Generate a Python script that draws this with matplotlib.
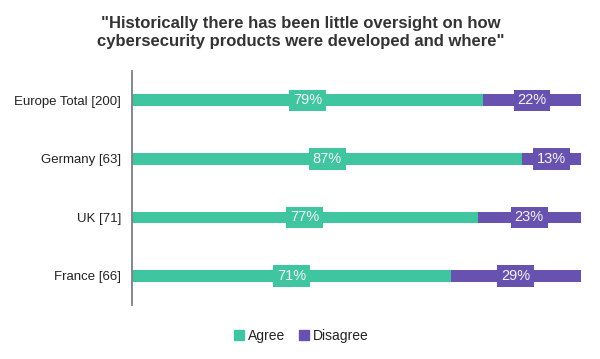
import matplotlib.pyplot as plt
from matplotlib.patches import Patch

plt.rcParams['font.family'] = ['Liberation Sans', 'DejaVu Sans']

# Data
groups = ["Europe Total [200]", "Germany [63]", "UK [71]", "France [66]"]
agree = [79, 87, 77, 71]
disagree = [22, 13, 23, 29]

GREEN = "#40C5A1"
PURPLE = "#6852B0"

fig = plt.figure(figsize=(6, 3.59), dpi=100)
ax = fig.add_axes([0.22, 0.150, 0.748, 0.652])

ypos = list(range(len(groups)))
tot = [a + d for a, d in zip(agree, disagree)]
agree_w = [a / t * 100 for a, t in zip(agree, tot)]
dis_w = [d / t * 100 for d, t in zip(disagree, tot)]

ax.barh(ypos, agree_w, height=0.2, color=GREEN)
ax.barh(ypos, dis_w, left=agree_w, height=0.2, color=PURPLE)

# label boxes centred on each segment
box_w = 8.2
for y, aw, dw, a, d in zip(ypos, agree_w, dis_w, agree, disagree):
    ca = aw / 2
    cd = aw + dw / 2
    ax.barh(y, box_w, left=ca - box_w / 2, height=0.37, color=GREEN)
    ax.barh(y, box_w, left=cd - box_w / 2, height=0.37, color=PURPLE)
    ax.text(ca, y, f"{a}%", ha="center", va="center", color="#F4F4F4", fontsize=10.5)
    ax.text(cd, y, f"{d}%", ha="center", va="center", color="#F4F4F4", fontsize=10.5)

ax.set_xlim(0, 100)
ax.set_ylim(3.5, -0.5)
ax.set_yticks(ypos)
ax.set_yticklabels(groups, fontsize=9.5, color="#222222")
ax.set_xticks([])
ax.tick_params(axis="y", length=0, pad=8)
for s in ["top", "right", "bottom"]:
    ax.spines[s].set_visible(False)
ax.spines["left"].set_color("#7F7F7F")
ax.spines["left"].set_linewidth(1.3)

fig.suptitle('"Historically there has been little oversight on how\ncybersecurity products were developed and where"',
             x=0.502, y=0.955, fontsize=12, fontweight="bold", color="#333333", linespacing=1.25)

handles = [Patch(color=GREEN, label="Agree"), Patch(color=PURPLE, label="Disagree")]
fig.legend(handles=handles, loc="center", bbox_to_anchor=(0.502, 0.064), ncol=2, frameon=False,
           fontsize=10, handlelength=0.7, handleheight=0.7, handletextpad=0.3, columnspacing=1.0,
           labelcolor="#222222")

fig.savefig("out.png", dpi=100, facecolor="white")
